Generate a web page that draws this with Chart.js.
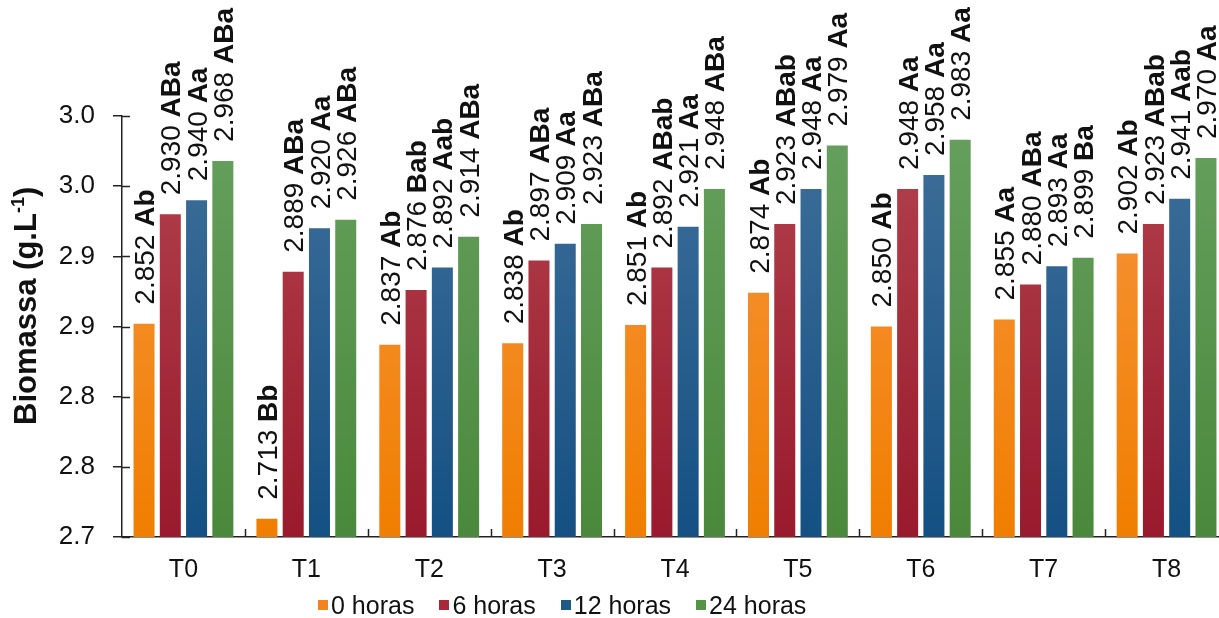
<!DOCTYPE html>
<html>
<head>
<meta charset="utf-8">
<script src="https://cdn.jsdelivr.net/npm/chart.js@4.4.1/dist/chart.umd.min.js"></script>
<style>
    html, body { margin: 0; padding: 0; background: #fff; overflow: hidden; }
    #wrap   { position: relative; width: 1219px; height: 618px; overflow: hidden; }
    #chart  { position: absolute; left: 0; top: 0; }
    #legend { position: absolute; left: 318px; top: 590px; display: flex; align-items: center;
              font: 25px "Liberation Sans", Arial, sans-serif; color: #111; line-height: 30px; }
    .item   { display: flex; align-items: center; margin-right: 25px; }
    .box    { width: 10px; height: 10px; margin-right: 3px; }
</style>
</head>
<body>
<div id="wrap">
    <canvas id="chart" width="1232" height="618"></canvas>
    <div id="legend"></div>
</div>
<script>
// ─── DATA ────────────────────────────────────────────────────
const categories  = ['T0', 'T1', 'T2', 'T3', 'T4', 'T5', 'T6', 'T7', 'T8'];
const seriesNames = ['0 horas', '6 horas', '12 horas', '24 horas'];

const h0  = [2.852, 2.713, 2.837, 2.838, 2.851, 2.874, 2.850, 2.855, 2.902];
const h6  = [2.930, 2.889, 2.876, 2.897, 2.892, 2.923, 2.948, 2.880, 2.923];
const h12 = [2.940, 2.920, 2.892, 2.909, 2.921, 2.948, 2.958, 2.893, 2.941];
const h24 = [2.968, 2.926, 2.914, 2.923, 2.948, 2.979, 2.983, 2.899, 2.970];

const l0  = ['Ab', 'Bb', 'Ab', 'Ab', 'Ab', 'Ab', 'Ab', 'Aa', 'Ab'];
const l6  = ['ABa', 'ABa', 'Bab', 'ABa', 'ABab', 'ABab', 'Aa', 'ABa', 'ABab'];
const l12 = ['Aa', 'Aa', 'Aab', 'Aa', 'Aa', 'Aa', 'Aa', 'Aa', 'Aab'];
const l24 = ['ABa', 'ABa', 'ABa', 'ABa', 'ABa', 'Aa', 'Aa', 'Ba', 'Aa'];

const yTickLabels = ['2.7', '2.8', '2.8', '2.9', '2.9', '3.0', '3.0'];

// ─── STYLE ───────────────────────────────────────────────────
const FONT       = '"Liberation Sans", Arial, sans-serif';
const topColors  = ['#f79641', '#b3434f', '#41709a', '#67a05f'];
const botColors  = ['#f07e00', '#991a2c', '#145083', '#4a893b'];
const solidColor = ['#f58220', '#a8283a', '#1f5a87', '#559448'];

const values = [h0, h6, h12, h24];
const marks  = [l0, l6, l12, l24];

const _grads = {};
function gradient(chart, i) {
    const area = chart.chartArea;
    if (!area) return solidColor[i];
    const key = i + ':' + area.top + ':' + area.bottom;
    if (!_grads[key]) {
        const g = chart.ctx.createLinearGradient(0, area.top, 0, area.bottom);
        g.addColorStop(0, topColors[i]);
        g.addColorStop(1, botColors[i]);
        _grads[key] = g;
    }
    return _grads[key];
}

// value + bold letters, rotated, above each bar
const barLabels = {
    id: 'barLabels',
    afterDatasetsDraw(chart) {
        const ctx = chart.ctx;
        const size = 28;
        chart.data.datasets.forEach((ds, di) => {
            chart.getDatasetMeta(di).data.forEach((bar, j) => {
                const num = values[di][j].toFixed(3) + ' ';
                const tag = marks[di][j];
                ctx.save();
                ctx.translate(bar.x + size * 0.36, bar.y - 19);
                ctx.rotate(-Math.PI / 2);
                ctx.textAlign = 'left';
                ctx.textBaseline = 'alphabetic';
                ctx.fillStyle = '#111';
                ctx.font = `${size}px ${FONT}`;
                ctx.fillText(num, 0, 0);
                const w = ctx.measureText(num).width;
                ctx.font = `bold ${size}px ${FONT}`;
                ctx.fillText(tag, w, 0);
                ctx.restore();
            });
        });
    },
};

// inward tick marks + y title with superscript
const axisExtras = {
    id: 'axisExtras',
    afterDraw(chart) {
        const ctx = chart.ctx;
        const x = chart.scales.x, y = chart.scales.y;
        ctx.save();
        ctx.strokeStyle = '#222';
        ctx.lineWidth = 1.5;
        y.ticks.forEach((t, i) => {
            const py = Math.round(y.getPixelForTick(i)) + 0.5;
            ctx.beginPath();
            ctx.moveTo(y.right, py);
            ctx.lineTo(y.right + 8, py);
            ctx.stroke();
        });
        for (let i = 1; i < categories.length; i++) {
            const px = Math.round((x.getPixelForValue(i - 1) + x.getPixelForValue(i)) / 2) + 0.5;
            ctx.beginPath();
            ctx.moveTo(px, x.top);
            ctx.lineTo(px, x.top - 8);
            ctx.stroke();
        }

        // title
        ctx.translate(36, 425);
        ctx.rotate(-Math.PI / 2);
        ctx.fillStyle = '#111';
        ctx.textAlign = 'left';
        ctx.textBaseline = 'alphabetic';
        ctx.font = `bold 31px ${FONT}`;
        const a = 'Biomassa (g.L';
        ctx.fillText(a, 0, 0);
        let w = ctx.measureText(a).width;
        ctx.font = `bold 18px ${FONT}`;
        ctx.fillText('-1', w, -12);
        w += ctx.measureText('-1').width;
        ctx.font = `bold 31px ${FONT}`;
        ctx.fillText(')', w, 0);
        ctx.restore();
    },
};

new Chart(document.getElementById('chart'), {
    type: 'bar',
    data: {
        labels: categories,
        datasets: seriesNames.map((name, i) => ({
            label: name,
            data: values[i],
            backgroundColor: ctx => gradient(ctx.chart, i),
            borderWidth: 0,
            categoryPercentage: 0.855,
            barPercentage: 0.8,
        })),
    },
    options: {
        responsive: false,
        animation: false,
        layout: { padding: { left: 58, top: 116, right: 4, bottom: 0 } },
        plugins: {
            legend:  { display: false },
            tooltip: { enabled: false },
        },
        scales: {
            x: {
                grid:   { display: false },
                border: { display: true, color: '#222', width: 1.5 },
                ticks:  { color: '#111', padding: 10, font: { family: FONT, size: 25 } },
                afterFit(s) { s.height = 81; },
            },
            y: {
                min: 2.7,
                max: 3.0,
                grid:   { drawOnChartArea: false, tickLength: 9, color: '#222', lineWidth: 1.5 },
                border: { display: true, color: '#222', width: 1.5 },
                ticks:  {
                    stepSize: 0.05,
                    color: '#111',
                    padding: 18,
                    font: { family: FONT, size: 26 },
                    callback: (v, i) => yTickLabels[i],
                },
                afterFit(s) { s.width = 64; },
            },
        },
    },
    plugins: [barLabels, axisExtras],
});

// legend (html)
const legend = document.getElementById('legend');
seriesNames.forEach((name, i) => {
    const item = document.createElement('div');
    item.className = 'item';
    item.innerHTML = `<span class="box" style="background:${solidColor[i]}"></span><span>${name}</span>`;
    legend.appendChild(item);
});
</script>
</body>
</html>
